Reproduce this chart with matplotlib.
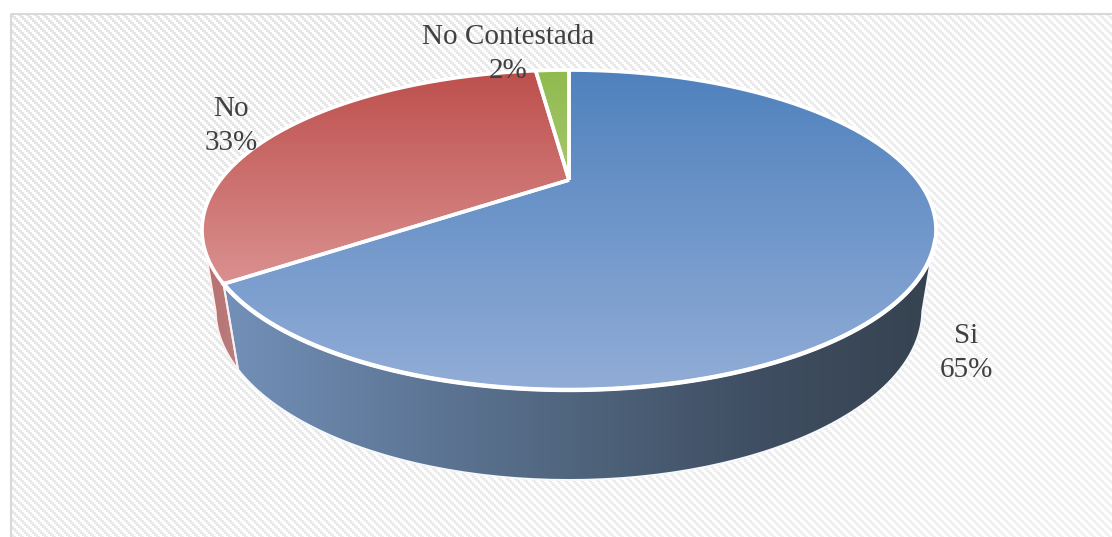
"""3D-look pie chart, drawn in pixel coordinates with a projected disc."""

import numpy as np
import matplotlib

matplotlib.use("Agg")
import matplotlib.pyplot as plt
from matplotlib.colors import LinearSegmentedColormap
from matplotlib.patches import PathPatch, Rectangle
from matplotlib.path import Path

W, H = 1112, 537

categories = ["Si", "No", "No Contestada"]
shares = [65, 33, 2]
label_pos = [(966, 353), (231, 126), (508, 54)]

CX = 569
TOP = dict(a=-88.1, b=180.0, c=0.3125, r=348.6)      # upper face
BOTTOM = dict(a=-77.0, b=259.0, c=0.30, r=337.0)     # lower rim


def rim(theta, p):
    # theta clockwise from 12 o'clock, degrees
    t = np.radians(theta)
    u, v = np.sin(t), np.cos(t)
    d = p["c"] * v + 1
    return np.column_stack([CX + p["r"] * u / d, (p["a"] * v + p["b"]) / d])


def poly(pts):
    return Path(np.vstack([pts, pts[:1]]))


def gradient(ax, path, colors, vertical=True, z=2):
    # colour ramp across the bounding box of the path, clipped to it
    cmap = LinearSegmentedColormap.from_list("g", colors)
    g = np.linspace(0, 1, 256)
    g = g[:, None] if vertical else g[None, :]
    x0, y0, x1, y1 = path.get_extents().extents
    im = ax.imshow(g, cmap=cmap, extent=(x0 - 1, x1 + 1, y1 + 1, y0 - 1), aspect="auto",
                   zorder=z, interpolation="bilinear")
    patch = PathPatch(path, transform=ax.transData, fc="none", ec="none")
    ax.add_patch(patch)
    im.set_clip_path(patch)


fig = plt.figure(figsize=(W / 100, H / 100), dpi=100)
ax = fig.add_axes([0, 0, 1, 1])

# hatched chart background
yy, xx = np.mgrid[0:H, 0:W]
bg = np.where(((xx // 2) * 2 - (yy // 2) * 2) % 8 < 4, 1.0, 0.895 + 0.05 * (xx + yy) / (W + H))
bg[:13, :] = 1.0
bg[:, :10] = 1.0
ax.imshow(bg, cmap="gray", vmin=0, vmax=1, extent=(0, W, H, 0), aspect="auto", zorder=0,
          interpolation="nearest")
ax.add_patch(Rectangle((10.5, 13.5), W, H, fc="none", ec="#d9d9d9", lw=1.5, zorder=1))

edges = np.cumsum([0] + shares) * 3.6

# side wall: Si front, No small piece at far left
a = np.linspace(108, edges[1], 120)
side_si = poly(np.vstack([rim(a, TOP), rim(a[::-1], BOTTOM)]))
gradient(ax, side_si, ["#7390b8", "#60799a", "#4f647c", "#3f4e62", "#36424f"], vertical=False)
ax.add_patch(PathPatch(side_si, fc="none", ec="#f4f7fb", lw=1.4, zorder=3))

a = np.linspace(edges[1], 252, 40)
side_no = poly(np.vstack([rim(a, TOP), rim(a[::-1], BOTTOM)]))
gradient(ax, side_no, ["#b86c6b", "#b98080"], vertical=False)
ax.add_patch(PathPatch(side_no, fc="none", ec="#fbeeee", lw=1.4, zorder=3))

# top face
apex = np.array([[CX, TOP["b"]]])
face_cols = [
    ["#4f81bd", "#92add7"],
    ["#bd4f4c", "#da9190"],
    ["#8fbb4e", "#a9c66e"],
]
for i in range(len(shares)):
    a = np.linspace(edges[i], edges[i + 1], 200)
    path = poly(np.vstack([apex, rim(a, TOP)]))
    gradient(ax, path, face_cols[i], z=4)
    ax.add_patch(PathPatch(path, fc="none", ec="white", lw=2.6, joinstyle="round", zorder=5))

# front rim catches more light
front = rim(np.linspace(112, edges[1], 160), TOP)
ax.plot(front[:, 0], front[:, 1], color="white", lw=3.2, zorder=5)

for name, s, (x, y) in zip(categories, shares, label_pos):
    ax.text(x, y, f"{name}\n{s}%", ha="center", va="center", fontsize=21, linespacing=1.38,
            family="Liberation Serif", color="#404040", zorder=6)

ax.set_xlim(0, W)
ax.set_ylim(H, 0)
ax.axis("off")
fig.savefig("out.png", dpi=100)
